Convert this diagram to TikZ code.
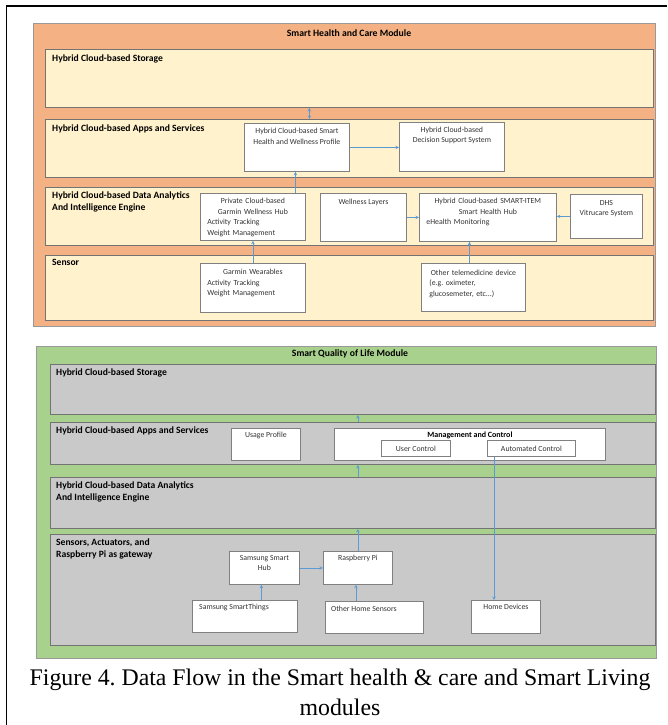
\documentclass[tikz,border=0pt]{standalone}
\usepackage{fontspec}
\setmainfont{Carlito}
\newfontfamily\capfont{Liberation Serif}
\usepackage{xcolor}
\usetikzlibrary{shapes,arrows,positioning}
\frenchspacing
\definecolor{hsorange}{HTML}{F4B183}
\definecolor{hsbeige}{HTML}{FFF2CC}
\definecolor{qlgreen}{HTML}{A9D18E}
\definecolor{qlgray}{HTML}{C9C9C9}
\definecolor{flowblue}{HTML}{5B9BD5}
\tikzstyle{module} = [draw=black!40, line width=0.6pt, inner sep=0pt, anchor=north west]
\tikzstyle{layer} = [draw=black!55, line width=0.9pt, inner sep=0pt, anchor=north west]
\tikzstyle{box} = [draw=black!50, fill=white, line width=0.8pt, inner sep=0pt, anchor=north west, font=\fontsize{7.8}{10.5}\selectfont, text=black!80]
\tikzstyle{boxtext} = [inner sep=0pt, font=\fontsize{7.8}{10.5}\selectfont, text=black!80, align=center]
\tikzstyle{lbl} = [inner sep=0pt, align=left, font=\bfseries\fontsize{9.6}{12}\selectfont]
\tikzstyle{title} = [inner sep=0pt, font=\bfseries\fontsize{9.7}{12}\selectfont]
\tikzstyle{arrow} = [draw=flowblue, line width=0.6pt, ->, >=stealth]

\begin{document}
\begin{tikzpicture}[x=1pt, y=1pt]
    \useasboundingbox (0,0) rectangle (667,-725);
    % 外框
    \draw[line width=1.8pt] (6.5,-725) -- (6.5,-6) -- (667,-6);

    % 智能健康模块
    \node[module, fill=hsorange, minimum width=622pt, minimum height=303pt] (hsModule) at (33,-23) {};
    \node[title] (hsTitle) at (349,-33) {Smart Health and Care Module};
    \node[layer, fill=hsbeige, minimum width=608pt, minimum height=58pt] (hsStore) at (45,-49) {};
    \node[layer, fill=hsbeige, minimum width=608pt, minimum height=58pt] (hsApps) at (45,-119) {};
    \node[layer, fill=hsbeige, minimum width=608pt, minimum height=58pt] (hsEngine) at (45,-187) {};
    \node[layer, fill=hsbeige, minimum width=608pt, minimum height=65pt] (hsSensor) at (45,-255) {};
    \node[lbl, below right=5.5pt and 7pt of hsStore.north west] (hsStoreL) {Hybrid Cloud-based Storage};
    \node[lbl, below right=5.5pt and 7pt of hsApps.north west] (hsAppsL) {Hybrid Cloud-based Apps and Services};
    \node[lbl, below right=5pt and 7pt of hsEngine.north west] (hsEngineL) {Hybrid Cloud-based Data Analytics\\And Intelligence Engine};
    \node[lbl, below right=4.5pt and 7pt of hsSensor.north west] (hsSensorL) {Sensor};

    % 健康模块的方框
    \node[box, minimum width=105pt, minimum height=48pt] (hsProfile) at (244,-123) {};
    \node[box, minimum width=105pt, minimum height=49pt] (hsDecision) at (399,-122) {};
    \node[box, minimum width=105pt, minimum height=47pt] (hsHub) at (200,-193) {};
    \node[box, minimum width=86pt, minimum height=48pt] (hsWellness) at (320,-193) {};
    \node[box, minimum width=137pt, minimum height=48pt] (hsSmartItem) at (419,-193) {};
    \node[box, minimum width=72pt, minimum height=44pt] (hsDHS) at (570,-194) {};
    \node[box, minimum width=105pt, minimum height=49pt] (hsWearables) at (200,-263) {};
    \node[box, minimum width=104pt, minimum height=48pt] (hsTelemed) at (421,-263) {};
    \node[boxtext, below=5pt of hsProfile.north] (hsProfileT) {Hybrid Cloud-based Smart\\Health and Wellness Profile};
    \node[boxtext, below=4.5pt of hsDecision.north] (hsDecisionT) {Hybrid Cloud-based\\Decision Support System};
    \node[boxtext, text width=91pt, align=left, below=5pt of hsHub.north] (hsHubT) {{\centering Private Cloud-based\\Garmin Wellness Hub\par}Activity Tracking\\Weight Management};
    \node[boxtext, below=5.5pt of hsWellness.north] (hsWellnessT) {Wellness Layers};
    \node[boxtext, text width=123pt, align=left, below=5pt of hsSmartItem.north] (hsSmartItemT) {{\centering Hybrid Cloud-based SMART-ITEM\\Smart Health Hub\par}eHealth Monitoring};
    \node[boxtext, below=6pt of hsDHS.north] (hsDHST) {DHS\\Vitrucare System};
    \node[boxtext, text width=91pt, align=left, below=6pt of hsWearables.north] (hsWearablesT) {{\centering Garmin Wearables\par}Activity Tracking\\Weight Management};
    \node[boxtext, text width=88pt, align=left, below=6.5pt of hsTelemed.north] (hsTelemedT) {{\centering Other telemedicine device\par}(e.g. oximeter,\\glucosemeter, etc...)};

    % 健康模块的数据流
    \draw[arrow, <->] ([xshift=12.5pt]hsProfile.north |- hsApps.north) -- ([xshift=12.5pt]hsProfile.north |- hsStore.south);
    \draw[arrow] (hsProfile.east) -- (hsDecision.west |- hsProfile.east);
    \draw[arrow] ([xshift=-1.5pt]hsProfile.south |- hsHub.north) -- ([xshift=-1.5pt]hsProfile.south);
    \draw[arrow] (hsWellness.east) -- (hsSmartItem.west |- hsWellness.east);
    \draw[arrow] (hsDHS.west) -- (hsSmartItem.east |- hsDHS.west);
    \draw[arrow] (hsWearables.north) -- (hsHub.south);
    \draw[arrow] ([xshift=-4pt]hsTelemed.north) -- ([xshift=-4pt]hsTelemed.north |- hsSmartItem.south);

    % 智能生活质量模块
    \node[module, fill=qlgreen, minimum width=620pt, minimum height=312pt] (qlModule) at (36,-346) {};
    \node[title] (qlTitle) at (350,-354) {Smart Quality of Life Module};
    \node[layer, fill=qlgray, minimum width=605pt, minimum height=50pt] (qlStore) at (50,-364) {};
    \node[layer, fill=qlgray, minimum width=605pt, minimum height=42pt] (qlApps) at (50,-422) {};
    \node[layer, fill=qlgray, minimum width=605pt, minimum height=51pt] (qlEngine) at (50,-477) {};
    \node[layer, fill=qlgray, minimum width=605pt, minimum height=111pt] (qlSensor) at (50,-534) {};
    \node[lbl, below right=4.5pt and 6pt of qlStore.north west] (qlStoreL) {Hybrid Cloud-based Storage};
    \node[lbl, below right=4.5pt and 6pt of qlApps.north west] (qlAppsL) {Hybrid Cloud-based Apps and Services};
    \node[lbl, below right=4.5pt and 6pt of qlEngine.north west] (qlEngineL) {Hybrid Cloud-based Data Analytics\\And Intelligence Engine};
    \node[lbl, below right=5pt and 6pt of qlSensor.north west] (qlSensorL) {Sensors, Actuators, and\\Raspberry Pi as gateway};

    % 生活模块的方框
    \node[box, minimum width=69pt, minimum height=32pt] (qlUsage) at (231,-428) {};
    \node[box, minimum width=271pt, minimum height=32pt] (qlMgmt) at (334,-428) {};
    \node[box, minimum width=69pt, minimum height=16pt] (qlUser) at (381,-440) {User Control};
    \node[box, minimum width=88pt, minimum height=16pt] (qlAuto) at (487,-440) {Automated Control};
    \node[box, minimum width=70pt, minimum height=33pt] (qlHub) at (229,-551) {};
    \node[box, minimum width=69pt, minimum height=33pt] (qlPi) at (323,-551) {};
    \node[box, minimum width=105pt, minimum height=32pt] (qlThings) at (192,-600) {};
    \node[box, minimum width=98pt, minimum height=32pt] (qlOther) at (325,-601) {};
    \node[box, minimum width=69pt, minimum height=33pt] (qlDevices) at (471,-600) {};
    \node[boxtext, below=3.5pt of qlUsage.north] (qlUsageT) {Usage Profile};
    \node[boxtext, font=\bfseries\fontsize{8}{10}\selectfont, text=black, below=3.5pt of qlMgmt.north] (qlMgmtT) {Management and Control};
    \node[boxtext, below=4pt of qlHub.north] (qlHubT) {Samsung Smart\\Hub};
    \node[boxtext, below=4pt of qlPi.north] (qlPiT) {Raspberry Pi};
    \node[boxtext, below right=4pt and 7pt of qlThings.north west] (qlThingsT) {Samsung SmartThings};
    \node[boxtext, below right=5pt and 6pt of qlOther.north west] (qlOtherT) {Other Home Sensors};
    \node[boxtext, below=4pt of qlDevices.north] (qlDevicesT) {Home Devices};

    % 生活模块的数据流
    \draw[arrow] (qlPi.north |- qlApps.north) -- (qlPi.north |- qlStore.south);
    \draw[arrow] (qlPi.north |- qlEngine.north) -- (qlPi.north |- qlApps.south);
    \draw[arrow] (qlPi.north) -- (qlPi.north |- qlEngine.south);
    \draw[arrow] (qlHub.east) -- (qlPi.west);
    \draw[arrow] ([xshift=-3pt]qlHub.south |- qlThings.north) -- ([xshift=-3pt]qlHub.south);
    \draw[arrow] ([xshift=-2pt]qlPi.south |- qlOther.north) -- ([xshift=-2pt]qlPi.south);
    \draw[arrow] ([xshift=7pt]qlAuto.south west) -- ([xshift=7pt]qlAuto.south west |- qlDevices.north);

    % 图注
    \node[inner sep=0pt, anchor=north, align=center, font=\capfont\fontsize{23.8}{30}\selectfont] (caption) at (340,-669) {Figure 4. Data Flow in the Smart health \& care and Smart Living\\modules};
\end{tikzpicture}
\end{document}
